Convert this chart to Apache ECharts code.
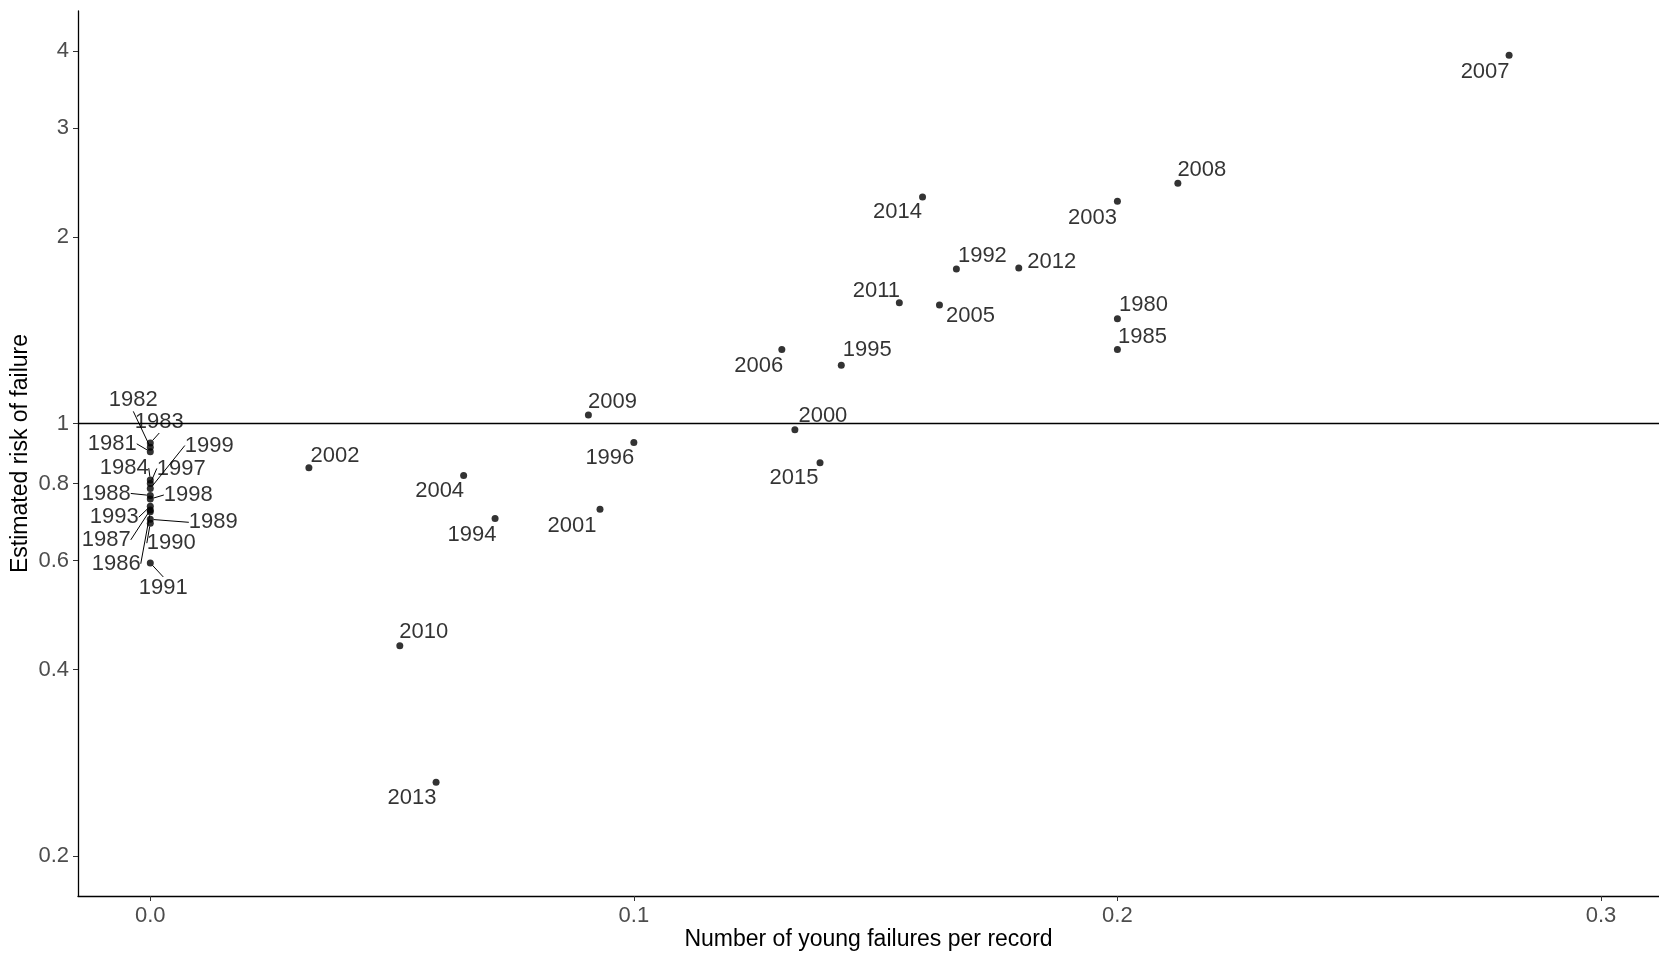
<!DOCTYPE html>
<html>
<head>
<meta charset="utf-8">
<script src="https://cdn.jsdelivr.net/npm/echarts@6/dist/echarts.min.js"></script>
<style>
html,body{margin:0;padding:0;background:#fff;}
#chart{width:1659px;height:955px;}
</style>
</head>
<body>
<div id="chart"></div>
<script>
// ---- data ----
const years = [1980,1981,1982,1983,1984,1985,1986,1987,1988,1989,1990,1991,1992,1993,1994,1995,1996,1997,1998,1999,2000,2001,2002,2003,2004,2005,2006,2007,2008,2009,2010,2011,2012,2013,2014,2015];
const youngFailures = [0.2,0,0,0,0,0.2,0,0,0,0,0,0,0.1667,0,0.0713,0.1429,0.1,0,0,0,0.1333,0.093,0.0328,0.2,0.0648,0.1632,0.1306,0.281,0.2125,0.0906,0.0516,0.1549,0.1796,0.0591,0.1597,0.1385];
const riskOfFailure = [1.477,0.90,0.915,0.93,0.81,1.317,0.72,0.725,0.765,0.70,0.69,0.595,1.777,0.735,0.702,1.242,0.932,0.80,0.755,0.785,0.977,0.727,0.848,2.287,0.824,1.554,1.317,3.94,2.445,1.032,0.437,1.567,1.784,0.263,2.323,0.864];
const xTicks = [0, 0.1, 0.2, 0.3];
const yTicks = [0.2, 0.4, 0.6, 0.8, 1, 2, 3, 4];
const referenceRisk = 1;

// ---- label placement (layout only, in px) ----
const labelNudge = {
  2007:[-24,17], 2008:[24,-13], 2003:[-25,17], 2014:[-25,15], 1992:[26,-13], 2012:[33,-6],
  2011:[-23,-12], 2005:[31,11], 1980:[26,-14], 1985:[25,-13], 2006:[-23,16], 1995:[26,-15],
  2009:[24,-13], 2000:[28,-14], 1996:[-24,16], 2015:[-26,15], 2002:[26,-12], 2004:[-24,15],
  1994:[-23,16], 2001:[-28,17], 2010:[24,-14], 2013:[-24,16],
  1982:[-17,-47], 1983:[9,-21], 1981:[-38,-8], 1999:[59,-43], 1984:[-26,-12], 1997:[31,-15],
  1988:[-44,-2], 1998:[38,-4], 1993:[-36,11], 1989:[63,3], 1987:[-44,30], 1990:[21,20],
  1986:[-34,52], 1991:[13,25]
};

const spread = [], cluster = [];
years.forEach((y, i) => {
  const item = [youngFailures[i], riskOfFailure[i], y];
  if (youngFailures[i] === 0) cluster.push(item); else spread.push(item);
});

const chart = echarts.init(document.getElementById('chart'), null, {renderer:'canvas'});
const FONT = 'Liberation Sans, Arial, sans-serif';

function makeLayout(data) {
  return function (p) {
    const yr = data[p.dataIndex][2];
    const n = labelNudge[yr] || [0,0];
    return { dx: n[0], dy: n[1] };
  };
}

const labelCommon = {
  show: true,
  position: 'inside',
  align: 'center',
  verticalAlign: 'middle',
  color: '#000',
  fontSize: 22,
  fontFamily: FONT,
  formatter: p => String(p.value[2])
};

chart.setOption({
  animation: false,
  backgroundColor: '#fff',
  grid: { left: 78, right: 0, top: 11, bottom: 59, containLabel: false, outerBoundsMode: 'none' },
  xAxis: {
    type: 'value',
    min: -0.01495,
    max: 0.312,
    name: 'Number of young failures per record',
    nameLocation: 'middle',
    nameGap: 32,
    nameMoveOverlap: false,
    nameTextStyle: { color: '#000', fontSize: 23, fontFamily: FONT },
    axisLine: { show: true, onZero: false, lineStyle: { color: '#000', width: 1.3 } },
    axisTick: { show: true, length: 5, customValues: xTicks, lineStyle: { color: '#333', width: 1 } },
    axisLabel: { customValues: xTicks, color: '#4d4d4d', fontSize: 22, fontFamily: FONT, margin: 9,
      formatter: v => Number(v).toFixed(1) },
    splitLine: { show: false }
  },
  yAxis: {
    type: 'log',
    logBase: 10,
    min: 0.1722,
    max: 4.645,
    name: 'Estimated risk of failure',
    nameLocation: 'middle',
    nameGap: 46,
    nameMoveOverlap: false,
    nameTextStyle: { color: '#000', fontSize: 23, fontFamily: FONT },
    axisLine: { show: true, onZero: false, lineStyle: { color: '#000', width: 1.3 } },
    axisTick: { show: true, length: 5, customValues: yTicks, lineStyle: { color: '#333', width: 1 } },
    axisLabel: { customValues: yTicks, color: '#4d4d4d', fontSize: 22, fontFamily: FONT, margin: 9,
      formatter: v => String(+Number(v).toFixed(2)) },
    splitLine: { show: false }
  },
  series: [
    {
      type: 'scatter',
      data: spread,
      symbol: 'circle',
      symbolSize: 7,
      itemStyle: { color: '#000' },
      label: labelCommon,
      labelLayout: makeLayout(spread),
      markLine: {
        silent: true,
        symbol: 'none',
        label: { show: false },
        lineStyle: { color: '#000', width: 1.3, type: 'solid' },
        data: [{ yAxis: referenceRisk }]
      },
      z: 3
    },
    {
      type: 'scatter',
      data: cluster,
      symbol: 'circle',
      symbolSize: 7,
      itemStyle: { color: '#000' },
      label: labelCommon,
      labelLayout: makeLayout(cluster),
      labelLine: { show: true, length2: 0, lineStyle: { color: '#000', width: 1 } },
      z: 3
    }
  ]
});
</script>
</body>
</html>
